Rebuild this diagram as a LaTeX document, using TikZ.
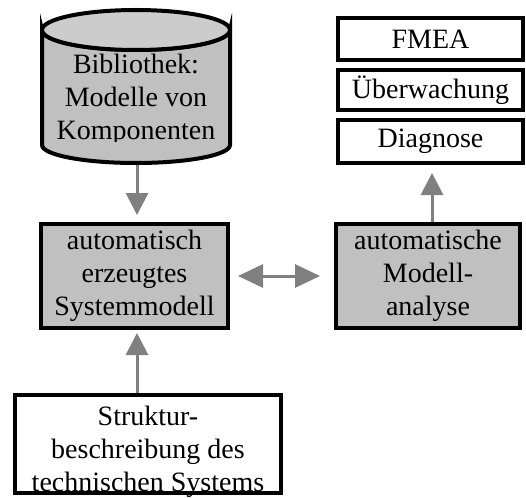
\documentclass[tikz,border=0pt]{standalone}
\usepackage{fontspec}
\setmainfont{Liberation Serif}
\usetikzlibrary{arrows.meta}
\definecolor{boxgray}{HTML}{C0C0C0}
\definecolor{topgray}{HTML}{CCCCCC}
\definecolor{arrgray}{HTML}{808080}
\begin{document}
\begin{tikzpicture}[x=1pt,y=-1pt,
  lbl/.style={font=\fontsize{28}{33}\selectfont, align=center, inner sep=0pt},
  graybox/.style={draw=black, line width=4pt, fill=boxgray, minimum width=187pt, minimum height=104pt, lbl},
  whitebox/.style={draw=black, line width=4pt, fill=white, minimum width=185pt, minimum height=42pt, lbl},
  arr/.style={draw=arrgray, line width=3pt, -{Triangle[length=22pt,width=22pt]}},
  darr/.style={draw=arrgray, line width=3pt, {Triangle[length=25pt,width=23pt]}-{Triangle[length=25pt,width=23pt]}}]
\useasboundingbox (0,0) rectangle (526,497);

% library cylinder
\filldraw[line width=4pt, fill=boxgray] (42,30) -- (42,145) arc[start angle=180, end angle=0, x radius=94, y radius=18] -- (230,30) arc[start angle=0, end angle=180, x radius=94, y radius=20] -- cycle;
\filldraw[line width=4pt, fill=topgray] (136,30) ellipse[x radius=94, y radius=20];
\begin{scope}
  \clip (0,0) rectangle (526,141.5);
  \node[lbl] (lib) at (136,100) {Bibliothek:\\Modelle von\\Komponenten};
\end{scope}
\coordinate (libbot) at (137,165);

% generated model and analysis
\node[graybox] (sys) at (134.5,276) {automatisch\\erzeugtes\\Systemmodell};
\node[graybox, minimum width=184pt] (ana) at (428,276) {automatische\\Modell-\\analyse};

% applications
\node[whitebox] (fmea) at (430.5,39) {FMEA};
\node[whitebox, minimum height=40pt] (ueb) at (430.5,90) {Überwachung};
\node[whitebox, minimum height=43pt] (diag) at (430.5,141.5) {Diagnose};

% structure description
\node[draw=black, line width=4pt, fill=white, minimum width=266pt, minimum height=98pt] (struct) at (148,444) {};
\node[lbl] (structtext) at (148,452) {Struktur-\\beschreibung des\\technischen Systems};

% connectors
\draw[arr, shorten >=7pt] (libbot) -- (libbot |- sys.north);
\draw[arr, shorten >=3pt] (struct.north -| libbot) -- (sys.south -| libbot);
\draw[darr, shorten <=8pt, shorten >=14pt] (sys.east) -- (ana.west);
\draw[arr, shorten >=8pt] (ana.north -| 432,0) -- (diag.south -| 432,0);
\end{tikzpicture}
\end{document}
